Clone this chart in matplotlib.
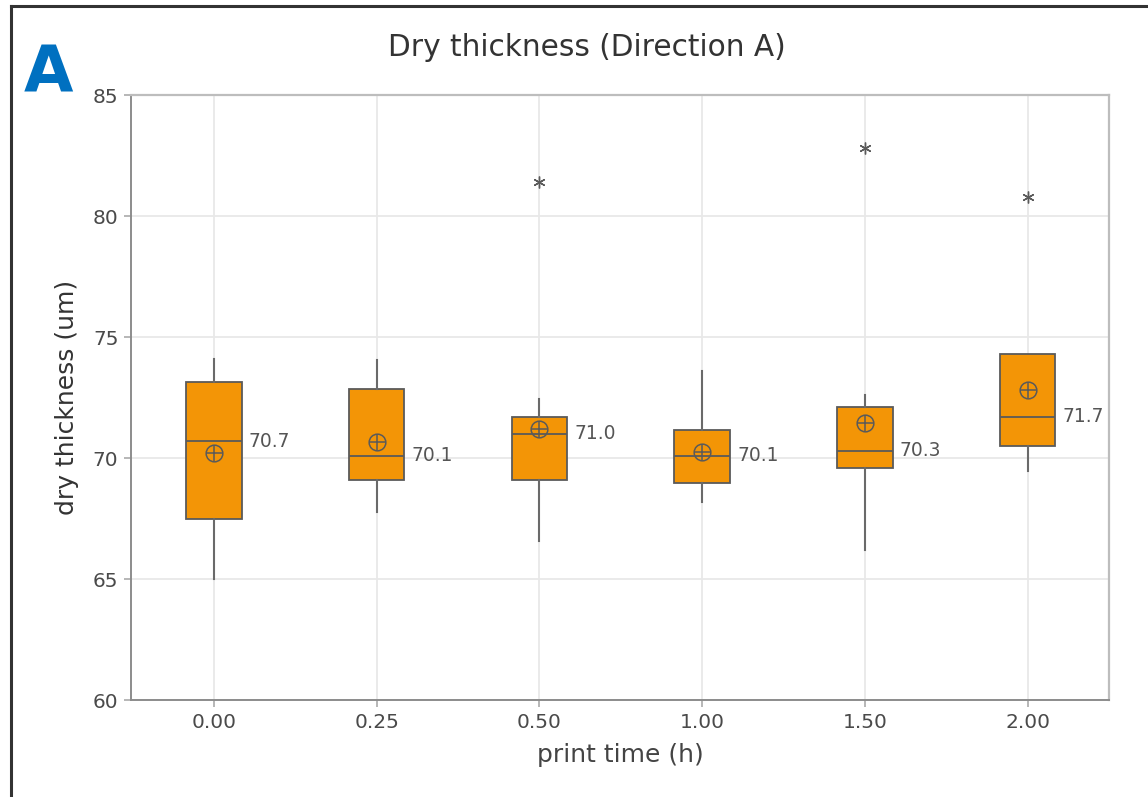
#Dry thickness box plot, direction A
import matplotlib
matplotlib.use("Agg")
import matplotlib.pyplot as plt

#box statistics
labels = ["0.00", "0.25", "0.50", "1.00", "1.50", "2.00"]
whislo = [65.0, 67.75, 66.55, 68.2, 66.2, 69.45]
q1 = [67.5, 69.1, 69.1, 68.95, 69.6, 70.5]
med = [70.7, 70.1, 71.0, 70.1, 70.3, 71.7]
q3 = [73.15, 72.85, 71.7, 71.15, 72.1, 74.3]
whishi = [74.1, 74.05, 72.45, 73.6, 72.6, 74.3]
means = [70.2, 70.65, 71.2, 70.25, 71.45, 72.8]
fliers = [[], [], [81.4], [], [82.8], [80.8]]

stats = []
for i in range(len(labels)):
	stats.append({"whislo": whislo[i], "q1": q1[i], "med": med[i], "q3": q3[i],
		"whishi": whishi[i], "mean": means[i], "fliers": fliers[i], "label": labels[i]})

fig = plt.figure(figsize=(11.48, 7.97), dpi=100)
ax = fig.add_axes([0.1141, 0.1217, 0.8519, 0.7591])

pos = list(range(len(labels)))
edge = "#5a5a5a"
ax.bxp(stats, positions=pos, widths=0.34, patch_artist=True, showmeans=False,
	showcaps=False, showfliers=False,
	boxprops=dict(facecolor="#f39506", edgecolor=edge, linewidth=1.3),
	medianprops=dict(color=edge, linewidth=1.3),
	whiskerprops=dict(color="#6a6a6a", linewidth=1.5), zorder=3)

#mean markers (circle with cross)
ax.plot(pos, means, linestyle="none", marker="o", ms=12, mfc="none", mec=edge, mew=1.1, zorder=4)
ax.plot(pos, means, linestyle="none", marker="+", ms=12, mec=edge, mew=1.1, zorder=4)

#outliers
for i in pos:
	if fliers[i]:
		ax.plot([i] * len(fliers[i]), fliers[i], linestyle="none", marker=(6, 2, 0),
			ms=8.5, mec="#5a5a5a", mew=1.0, zorder=4)

#median labels
for i in pos:
	ax.text(i + 0.215, med[i], "%.1f" % med[i], ha="left", va="center",
		fontsize=13.5, color="#555555", zorder=5)

ax.set_xlim(-0.51, 5.5)
ax.set_ylim(60, 85)
ax.set_xticks(pos)
ax.set_xticklabels(labels)
ax.set_yticks([60, 65, 70, 75, 80, 85])
ax.grid(True, color="#e8e8e8", linewidth=1.3, zorder=0)
ax.set_axisbelow(True)
for s in ["top", "right"]:
	ax.spines[s].set_color("#bdbdbd")
	ax.spines[s].set_linewidth(1.6)
for s in ["left", "bottom"]:
	ax.spines[s].set_color("#8c8c8c")
	ax.spines[s].set_linewidth(1.4)
ax.tick_params(axis="both", length=5, width=1.2, color="#aaaaaa", labelsize=14.5,
	labelcolor="#4a4a4a", pad=4)

ax.set_xlabel("print time (h)", fontsize=18, color="#444444", labelpad=8)
ax.set_ylabel("dry thickness (um)", fontsize=18, color="#333333", labelpad=10)
fig.text(0.511, 0.941, "Dry thickness (Direction A)", ha="center", va="center",
	fontsize=21.3, color="#333333")
fig.text(0.021, 0.907, "A", ha="left", va="center", fontsize=46, fontweight="bold",
	color="#0070c0")

#outer frame (top and left edges)
fig.add_artist(plt.Line2D([0.0096, 0.0096], [0.0, 0.9925], color="#333333",
	linewidth=2.2, transform=fig.transFigure))
fig.add_artist(plt.Line2D([0.0096, 1.0], [0.9925, 0.9925], color="#333333",
	linewidth=2.2, transform=fig.transFigure))

fig.savefig("out.png", dpi=100)
